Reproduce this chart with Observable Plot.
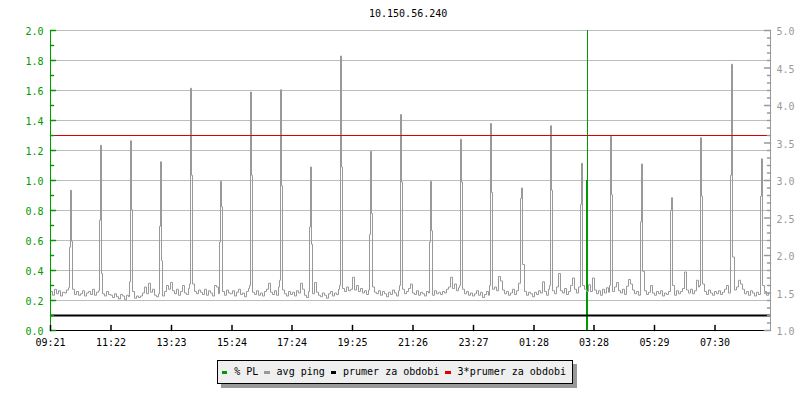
<!DOCTYPE html>
<html>
<head>
<meta charset="utf-8">
<script src="https://cdn.jsdelivr.net/npm/d3@7"></script>
<script src="https://cdn.jsdelivr.net/npm/@observablehq/plot@0.6"></script>
<style>
  body { margin: 0; background: #fff; }
  #wrap { position: relative; width: 800px; height: 400px; font-family: "DejaVu Sans Mono", monospace; font-size: 10px; }
  #title { position: absolute; left: 369px; top: 8px; line-height: 12px; color: #000; white-space: pre; }
  #legend { position: absolute; left: 217px; top: 360px; width: 356px; height: 24px; box-sizing: border-box;
            border: 1px solid #000; background: #efefef; box-shadow: 4px 4px 0 #999;
            display: flex; align-items: center; padding-left: 4px; line-height: 10px; white-space: pre; }
  .sw { width: 7px; height: 3px; margin-right: 7px; }
  .it { margin-right: 6px; }
</style>
</head>
<body>
<div id="wrap">
  <div id="chart"></div>
  <div id="title"></div>
  <div id="legend"></div>
</div>
<script>
// ---------- data ----------
const title = "10.150.56.240";
const tickLabels = ["09:21","11:22","13:23","15:24","17:24","19:25","21:26","23:27","01:28","03:28","05:29","07:30"];
const spanMinutes = 1440;     // 24 h window
const baseStepMinutes = 4;

// avg ping baseline (right axis units), one value per 4 minutes
const pingBase = [
  1.52,1.47,1.55,1.49,1.53,1.46,1.51,1.50,1.54,1.57,1.50,1.55,1.48,1.52,1.47,
  1.49,1.53,1.46,1.50,1.52,1.48,1.55,1.47,1.51,1.53,1.50,1.49,1.46,1.52,1.48,
  1.47,1.44,1.49,1.45,1.42,1.48,1.46,1.41,1.47,1.45,1.50,1.52,1.43,1.46,1.44,
  1.46,1.50,1.58,1.49,1.63,1.51,1.55,1.47,1.45,1.49,1.50,1.46,1.52,1.60,1.55,
  1.64,1.53,1.49,1.55,1.47,1.52,1.60,1.50,1.48,1.56,1.50,1.62,1.52,1.49,1.54,
  1.51,1.48,1.55,1.47,1.53,1.50,1.46,1.60,1.58,1.49,1.50,1.52,1.47,1.54,1.50,
  1.49,1.53,1.46,1.51,1.55,1.48,1.50,1.45,1.52,1.56,1.50,1.51,1.48,1.53,1.47,
  1.50,1.46,1.52,1.55,1.63,1.51,1.48,1.53,1.47,1.58,1.50,1.54,1.49,1.46,1.52,
  1.48,1.51,1.46,1.53,1.50,1.63,1.55,1.47,1.44,1.52,1.50,1.49,1.64,1.51,1.47,
  1.45,1.50,1.47,1.43,1.49,1.52,1.46,1.50,1.48,1.55,1.50,1.56,1.52,1.58,1.53,
  1.55,1.71,1.54,1.60,1.52,1.56,1.50,1.53,1.48,1.54,1.50,1.58,1.51,1.49,1.53,
  1.47,1.52,1.49,1.45,1.51,1.48,1.54,1.50,1.46,1.53,1.50,1.55,1.49,1.52,1.56,
  1.62,1.50,1.48,1.53,1.47,1.51,1.49,1.46,1.52,1.50,1.50,1.47,1.53,1.49,1.51,
  1.48,1.52,1.50,1.55,1.58,1.71,1.56,1.62,1.53,1.57,1.50,1.55,1.49,1.52,1.47,
  1.50,1.46,1.49,1.53,1.47,1.51,1.44,1.48,1.52,1.47,1.50,1.55,1.58,1.53,1.72,
  1.66,1.54,1.49,1.52,1.47,1.50,1.55,1.48,1.53,1.63,1.50,1.50,1.52,1.47,1.51,
  1.49,1.45,1.51,1.48,1.53,1.50,1.65,1.52,1.47,1.55,1.50,1.53,1.49,1.58,1.76,
  1.53,1.50,1.56,1.48,1.52,1.60,1.70,1.55,1.50,1.58,1.50,1.50,1.55,1.52,1.61,
  1.52,1.70,1.54,1.49,1.53,1.47,1.55,1.50,1.57,1.51,1.50,1.52,1.58,1.64,1.53,
  1.50,1.55,1.48,1.59,1.68,1.62,1.54,1.49,1.52,1.47,1.50,1.50,1.53,1.48,1.51,
  1.60,1.50,1.47,1.52,1.49,1.53,1.46,1.50,1.48,1.52,1.50,1.50,1.47,1.53,1.49,
  1.52,1.56,1.78,1.54,1.50,1.55,1.49,1.53,1.67,1.58,1.50,1.62,1.52,1.48,1.54,
  1.50,1.47,1.52,1.49,1.53,1.48,1.51,1.55,1.60,1.50,1.50,1.50,1.54,1.58,1.67,
  1.62,1.55,1.49,1.52,1.47,1.53,1.50,1.46,1.51,1.48,1.50,1.50,1.52,1.47,1.50
];

// hourly ping spikes: minute offset from 09:21, value just before, peak, value just after
const spikeMin  = [40,100,160,220,280,340,400,460,520,580,640,700,760,820,880,942,1000,1062,1120,1182,1242,1300,1362,1422];
const spikePre  = [2.11,2.47,1.65,2.39,1.62,2.18,1.60,1.67,2.38,1.60,2.28,1.60,2.18,1.60,1.60,2.76,1.60,2.68,1.60,2.45,2.60,1.60,3.07,2.79];
const spikePeak = [2.87,3.47,3.53,3.25,4.23,2.99,4.18,4.21,3.18,4.66,3.39,3.88,2.99,3.55,3.76,2.90,3.73,3.23,3.59,3.22,2.77,3.57,4.55,3.29];
const spikePost = [2.19,1.76,2.61,1.93,3.07,2.65,3.07,2.93,2.15,3.18,2.56,2.98,2.33,2.98,2.84,1.88,2.87,1.60,2.81,1.79,1.60,2.79,1.98,1.60];

// packet loss (% PL, left axis)
const plMin   = [1072, 1074];
const plValue = [1.0, 100];

// averages (right axis units)
const prumer = 1.2;
const prumer3 = 3 * prumer;

const legendItems = ["% PL", "avg ping", "prumer za obdobi", "3*prumer za obdobi"];
const colors = { pl: "#009900", ping: "#999999", avg: "#000000", avg3: "#dd0000", grid: "#bdbdbd", right: "#999999" };

// ---------- build ----------
const toLeft = p => (p - 1) / 2;   // right axis (1..5) -> left axis (0..2)
const t0 = 9 * 60 + 21;
const tickMinutes = tickLabels.map(s => { const [h, m] = s.split(":").map(Number); return ((h * 60 + m) - t0 + 1440) % 1440; });
const labelAt = new Map(tickMinutes.map((m, i) => [m, tickLabels[i]]));

const pts = [];
pingBase.forEach((v, i) => {
  const t = i * baseStepMinutes;
  if (!spikeMin.some(s => Math.abs(s - t) <= 2)) pts.push({ t, ping: v });
});
spikeMin.forEach((s, k) => {
  pts.push({ t: s - 2, ping: spikePre[k] }, { t: s, ping: spikePeak[k] }, { t: s + 2, ping: spikePost[k] });
});
pts.sort((a, b) => a.t - b.t);

const plData = plMin.map((t, i) => ({ t, v: plValue[i] }));

const leftMajor = d3.range(0, 2.0001, 0.2).map(v => +v.toFixed(2));
const leftMinor = d3.range(0.1, 2, 0.2).map(v => +v.toFixed(2));
const gridTicks = leftMajor.filter(v => v > 0);
const rightAll = d3.range(10, 51).map(v => v / 10);
const rightMajor = rightAll.filter(v => Math.abs(v * 2 - Math.round(v * 2)) < 1e-9);
const rightMinor = rightAll.filter(v => !rightMajor.includes(v));

const lineShape = { draw(ctx, l) { ctx.moveTo(0, 0); ctx.lineTo(0, -l); } };

const chart = Plot.plot({
  width: 800, height: 400,
  marginLeft: 50, marginRight: 30, marginTop: 30, marginBottom: 70,
  x: { domain: [0, spanMinutes] },
  y: { domain: [0, 2] },
  style: { fontFamily: "DejaVu Sans Mono, monospace", fontSize: "10px", background: "white", overflow: "visible" },
  marks: [
    Plot.ruleY(gridTicks, { stroke: colors.grid }),
    Plot.ruleX(plData, { x: "t", y1: 0, y2: "v", stroke: colors.pl, clip: true }),
    Plot.line(pts, { x: "t", y: d => toLeft(d.ping), stroke: colors.ping, strokeWidth: 1, curve: "step-after" }),
    Plot.ruleY([prumer], { y: d => toLeft(d), stroke: colors.avg, strokeWidth: 2 }),
    Plot.ruleY([prumer3], { y: d => toLeft(d), stroke: colors.avg3, strokeWidth: 1 }),
    // axis lines
    Plot.ruleX([0], { stroke: colors.pl }),
    Plot.ruleX([spanMinutes], { stroke: colors.right }),
    Plot.ruleY([0], { stroke: "#000" }),
    // inward tick marks
    Plot.vector(leftMajor, { x: 0, y: d => d, length: 5, rotate: 90, anchor: "start", shape: lineShape, stroke: colors.pl }),
    Plot.vector(leftMinor, { x: 0, y: d => d, length: 3, rotate: 90, anchor: "start", shape: lineShape, stroke: colors.pl }),
    Plot.vector(rightMajor, { x: spanMinutes, y: d => toLeft(d), length: 6, rotate: -90, anchor: "start", shape: lineShape, stroke: colors.right }),
    Plot.vector(rightMinor, { x: spanMinutes, y: d => toLeft(d), length: 3, rotate: -90, anchor: "start", shape: lineShape, stroke: colors.right }),
    Plot.vector(tickMinutes, { x: d => d, y: 0, length: 5, rotate: 0, anchor: "start", shape: lineShape, stroke: "#000" }),
    // axis labels
    Plot.axisY({ anchor: "left", ticks: leftMajor, tickFormat: d3.format(".1f"), tickSize: 0, tickPadding: 7, fill: colors.pl, label: null, dy: 1.5 }),
    Plot.axisY({ anchor: "right", ticks: rightMajor.map(toLeft), tickFormat: d => (1 + 2 * d).toFixed(1), tickSize: 0, tickPadding: 6, fill: colors.right, label: null, dy: 1.5 }),
    Plot.axisX({ ticks: tickMinutes, tickFormat: d => labelAt.get(d), tickSize: 0, tickPadding: 8, fill: "#000", label: null })
  ]
});
document.getElementById("chart").appendChild(chart);

document.getElementById("title").textContent = title;
const legendColors = [colors.pl, colors.ping, colors.avg, colors.avg3];
const lg = document.getElementById("legend");
legendItems.forEach((name, i) => {
  const sw = document.createElement("span");
  sw.className = "sw"; sw.style.background = legendColors[i];
  const tx = document.createElement("span");
  tx.className = "it"; tx.textContent = name;
  lg.appendChild(sw); lg.appendChild(tx);
});
</script>
</body>
</html>
